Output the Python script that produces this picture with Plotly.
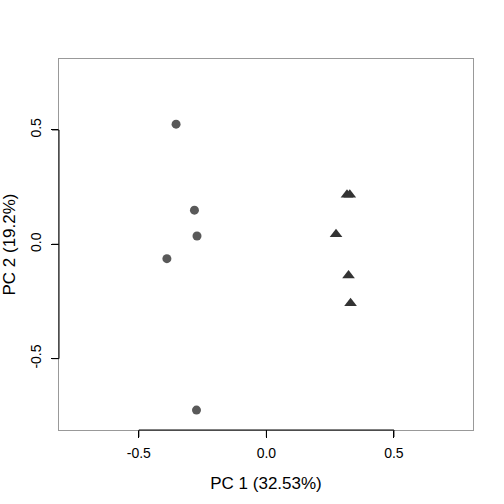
import plotly.graph_objects as go

# PCA scores, group A (circles) and group B (triangles)
pc1_a = [-0.354, -0.282, -0.272, -0.390, -0.274]
pc2_a = [0.525, 0.149, 0.036, -0.063, -0.725]

pc1_b = [0.316, 0.327, 0.273, 0.322, 0.330]
pc2_b = [0.216, 0.216, 0.044, -0.137, -0.258]

x_title = "PC 1 (32.53%)"
y_title = "PC 2 (19.2%)"
tick_vals = [-0.5, 0.0, 0.5]
tick_text = ["-0.5", "0.0", "0.5"]

x_range = [-0.813, 0.81]
y_range = [-0.812, 0.81]

fig = go.Figure()
fig.add_trace(go.Scatter(
    x=pc1_a, y=pc2_a, mode="markers",
    marker=dict(symbol="circle", size=9, color="#595959", line=dict(width=0)),
))
fig.add_trace(go.Scatter(
    x=pc1_b, y=pc2_b, mode="markers",
    marker=dict(symbol="triangle-up", size=11, color="#333333", line=dict(width=0)),
))

fig.update_layout(
    width=504, height=504,
    margin=dict(l=59, r=31, t=59, b=74),
    plot_bgcolor="white", paper_bgcolor="white",
    showlegend=False,
    font=dict(family="Liberation Sans, Arial", size=14, color="#000000"),
)
fig.update_xaxes(
    range=x_range, showgrid=False, zeroline=False, automargin=False,
    showline=True, mirror=True, linecolor="#999999",
    ticks="outside", ticklen=7, tickcolor="#000000", ticklabelstandoff=3,
    tickvals=tick_vals, ticktext=tick_text,
    title_text=x_title, title_standoff=17,
)
fig.update_yaxes(
    range=y_range, showgrid=False, zeroline=False, automargin=False,
    showline=True, mirror=True, linecolor="#999999",
    ticks="outside", ticklen=7, tickcolor="#000000", ticklabelstandoff=4,
    tickvals=tick_vals, ticktext=tick_text, tickangle=-90,
    title_text=y_title, title_standoff=16,
)

# R-style axis: black line from first to last tick, plus tick marks
# (paper refs so the tick marks are not clipped to the plot area)
plot_w = 504 - 59 - 31
plot_h = 504 - 59 - 74
axis_line = dict(color="#000000", width=1)
fig.add_shape(type="line", xref="x", yref="paper", x0=tick_vals[0], x1=tick_vals[-1],
              y0=0, y1=0, line=axis_line)
fig.add_shape(type="line", xref="paper", yref="y", x0=0, x1=0,
              y0=tick_vals[0], y1=tick_vals[-1], line=axis_line)
for t in tick_vals:
    fx = (t - x_range[0]) / (x_range[1] - x_range[0])
    fy = (t - y_range[0]) / (y_range[1] - y_range[0])
    fig.add_shape(type="line", xref="paper", yref="paper",
                  x0=fx, x1=fx, y0=0, y1=-7 / plot_h, line=axis_line)
    fig.add_shape(type="line", xref="paper", yref="paper",
                  x0=0, x1=-7 / plot_w, y0=fy, y1=fy, line=axis_line)

fig.write_html(
    "out.html",
    config={"displayModeBar": False},
    post_script="document.body.style.margin='0';",
)
